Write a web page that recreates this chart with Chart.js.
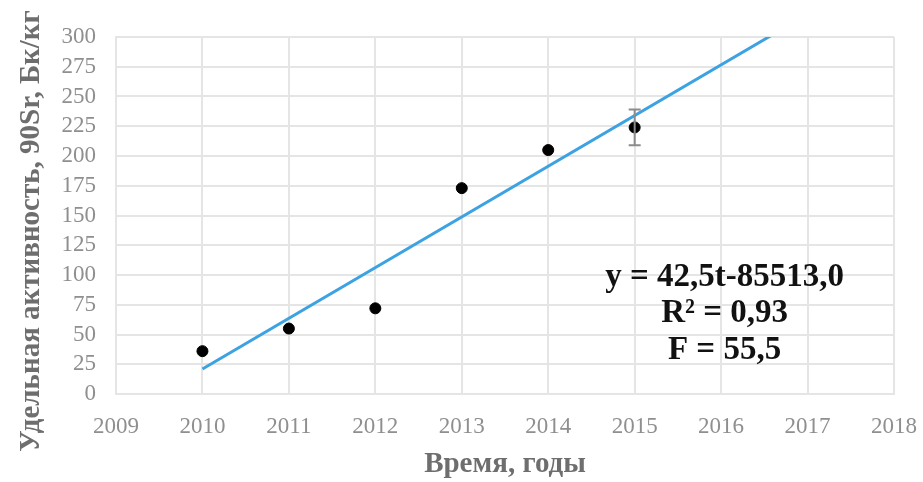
<!DOCTYPE html>
<html>
<head>
<meta charset="utf-8">
<script src="https://cdn.jsdelivr.net/npm/chart.js@4"></script>
<style>
  html, body { margin: 0; padding: 0; background: #fff; }
  #wrap { width: 923px; height: 482px; }
</style>
</head>
<body>
<div id="wrap"><canvas id="c" width="923" height="482"></canvas></div>
<script>
// Measured specific activity of 90Sr by year
const years = [2010, 2011, 2012, 2013, 2014, 2015];
const activity = [36, 55, 72, 173, 205, 224];
const errors = [0, 0, 0, 0, 0, 15];

const xTicks = [2009, 2010, 2011, 2012, 2013, 2014, 2015, 2016, 2017, 2018];
const yTicks = [0, 25, 50, 75, 100, 125, 150, 175, 200, 225, 250, 275, 300];

const xTitle = 'Время, годы';
const yTitle = 'Удельная активность, 90Sr, Бк/кг';
const fitLines = ['y = 42,5t-85513,0', 'R² = 0,93', 'F = 55,5'];

// Least-squares linear trend through the measurements
function linearFit(xs, ys) {
  const n = xs.length;
  const mx = xs.reduce((a, b) => a + b, 0) / n;
  const my = ys.reduce((a, b) => a + b, 0) / n;
  let sxy = 0, sxx = 0;
  for (let i = 0; i < n; i++) {
    sxy += (xs[i] - mx) * (ys[i] - my);
    sxx += (xs[i] - mx) * (xs[i] - mx);
  }
  const k = sxy / sxx;
  return { k, b: my - k * mx };
}
const fit = linearFit(years, activity);
const trendX = [years[0], xTicks[xTicks.length - 1]];
const trend = trendX.map(x => ({ x, y: fit.k * x + fit.b }));

const points = years.map((x, i) => ({ x, y: activity[i] }));

const serif = '"Liberation Serif", "Times New Roman", serif';

// Vertical error bars with caps
const errorBars = {
  id: 'errorBars',
  afterDatasetsDraw(chart) {
    const { ctx, scales: { x, y } } = chart;
    ctx.save();
    ctx.strokeStyle = '#8c8c8c';
    ctx.lineWidth = 2;
    years.forEach((yr, i) => {
      const e = errors[i];
      if (!e) return;
      const px = x.getPixelForValue(yr);
      const top = y.getPixelForValue(activity[i] + e);
      const bot = y.getPixelForValue(activity[i] - e);
      ctx.beginPath();
      ctx.moveTo(px, top); ctx.lineTo(px, bot);
      ctx.moveTo(px - 6, top); ctx.lineTo(px + 6, top);
      ctx.moveTo(px - 6, bot); ctx.lineTo(px + 6, bot);
      ctx.stroke();
    });
    ctx.restore();
  }
};

// Regression equation, statistics and the vertical axis caption
const annotations = {
  id: 'annotations',
  afterDraw(chart) {
    const { ctx, scales: { x, y } } = chart;
    ctx.save();
    ctx.font = 'bold 33px ' + serif;
    ctx.fillStyle = '#111';
    ctx.textAlign = 'center';
    ctx.textBaseline = 'middle';
    const cx = x.getPixelForValue(2016.04);
    const y0 = y.getPixelForValue(98);
    fitLines.forEach((t, i) => ctx.fillText(t, cx, y0 + i * 36.5));

    ctx.translate(32, 231);
    ctx.rotate(-Math.PI / 2);
    ctx.font = 'bold 29px ' + serif;
    ctx.fillStyle = '#6e6e6e';
    ctx.fillText(yTitle, 0, 0);
    ctx.restore();
  }
};

new Chart(document.getElementById('c'), {
  type: 'scatter',
  data: {
    datasets: [
      {
        label: 'trend',
        type: 'line',
        data: trend,
        borderColor: '#3da2e2',
        borderWidth: 3,
        pointRadius: 0,
        fill: false,
        order: 2
      },
      {
        label: 'activity',
        data: points,
        backgroundColor: '#000',
        borderColor: '#000',
        pointRadius: 5.5,
        pointHoverRadius: 5.5,
        order: 1
      }
    ]
  },
  plugins: [errorBars, annotations],
  options: {
    responsive: false,
    animation: false,
    layout: { padding: { top: 37, right: 29, left: 0, bottom: 0 } },
    plugins: {
      legend: { display: false },
      tooltip: { enabled: false }
    },
    scales: {
      x: {
        type: 'linear',
        min: xTicks[0],
        max: xTicks[xTicks.length - 1],
        afterBuildTicks: s => { s.ticks = xTicks.map(v => ({ value: v })); },
        afterFit: s => { s.height = 88; s.paddingLeft = 0; s.paddingRight = 0; },
        grid: { color: '#e5e5e5', lineWidth: 2, drawTicks: false },
        border: { color: '#e5e5e5', width: 2 },
        ticks: {
          autoSkip: false,
          maxRotation: 0,
          padding: 19,
          color: '#8f8f8f',
          font: { family: serif, size: 23 },
          callback: v => String(v)
        },
        title: {
          display: true,
          text: xTitle,
          color: '#6e6e6e',
          font: { family: serif, size: 29, weight: 'bold' },
          padding: { top: 0, bottom: 0 }
        }
      },
      y: {
        min: 0,
        max: 300,
        afterBuildTicks: s => { s.ticks = yTicks.map(v => ({ value: v })); },
        afterFit: s => { s.width = 116; },
        grid: { color: '#e5e5e5', lineWidth: 2, drawTicks: false },
        border: { color: '#e5e5e5', width: 2 },
        ticks: {
          autoSkip: false,
          padding: 20,
          color: '#8f8f8f',
          font: { family: serif, size: 23 },
          callback: v => String(v)
        }
      }
    }
  }
});
</script>
</body>
</html>
